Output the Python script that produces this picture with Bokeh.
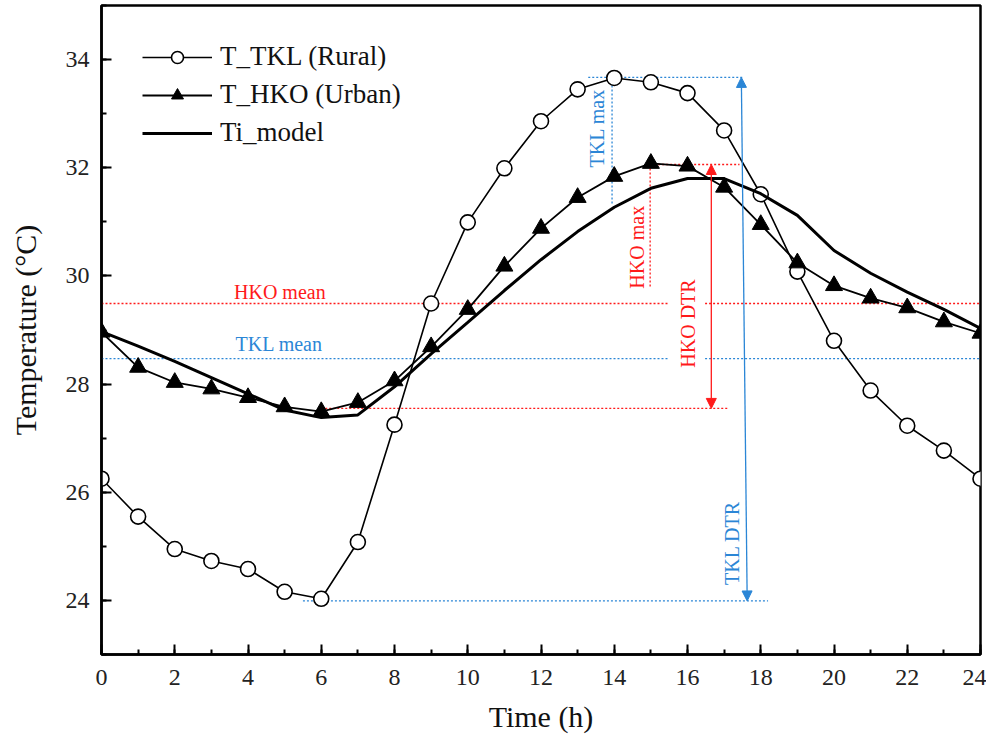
import math
from bokeh.plotting import figure
from bokeh.models import (Range1d, SingleIntervalTicker, Label, Arrow, NormalHead, Legend)
from bokeh.embed import file_html
from bokeh.resources import INLINE

# ---- data ----
hours = list(range(25))
t_tkl = [26.25, 25.55, 24.95, 24.73, 24.58, 24.16, 24.03, 25.08, 27.25, 29.49, 30.99,
         31.99, 32.86, 33.45, 33.66, 33.58, 33.38, 32.69, 31.51, 30.08, 28.80, 27.88,
         27.23, 26.77, 26.25]
t_hko = [28.96, 28.31, 28.03, 27.91, 27.75, 27.58, 27.49, 27.66, 28.06, 28.69, 29.38,
         30.18, 30.88, 31.45, 31.84, 32.08, 32.03, 31.64, 30.95, 30.24, 29.82, 29.59,
         29.41, 29.15, 28.94]
ti_model = [28.97, 28.70, 28.42, 28.12, 27.82, 27.52, 27.38, 27.43, 27.95, 28.56, 29.14,
            29.73, 30.30, 30.82, 31.27, 31.62, 31.80, 31.80, 31.52, 31.12, 30.47, 30.05,
            29.70, 29.38, 29.03]

hko_mean = 29.49
tkl_mean = 28.47
tkl_max = 33.67
tkl_min = 23.99
hko_max = 32.06
hko_min = 27.55

series_labels = ["T_TKL (Rural)", "T_HKO (Urban)", "Ti_model"]
x_label = "Time (h)"
y_label = "Temperature (°C)"

FONT = "Liberation Serif"
BLUE = "#2b86d6"
RED = "#ff1a1a"

p = figure(width=986, height=744, output_backend="svg", toolbar_location=None,
           x_range=Range1d(0, 24), y_range=Range1d(23, 35),
           min_border_left=101, min_border_right=6, min_border_top=5, min_border_bottom=90)
p.background_fill_color = "white"
p.border_fill_color = "white"
p.grid.visible = False
p.outline_line_color = "black"
p.outline_line_width = 2.5
p.outline_line_alpha = 1.0

for ax, tick in ((p.xaxis[0], SingleIntervalTicker(interval=2, num_minor_ticks=2)),
                 (p.yaxis[0], SingleIntervalTicker(interval=2, num_minor_ticks=2))):
    ax.ticker = tick
    ax.axis_line_color = "black"
    ax.axis_line_width = 2.5
    ax.major_tick_in = 10
    ax.major_tick_out = 0
    ax.minor_tick_in = 5
    ax.minor_tick_out = 0
    ax.major_tick_line_width = 2
    ax.minor_tick_line_width = 2
    ax.major_label_text_font = FONT
    ax.major_label_text_font_size = "24px"
    ax.major_label_text_color = "#222222"
    ax.axis_label_text_font = FONT
    ax.axis_label_text_font_size = "30px"
    ax.axis_label_text_font_style = "normal"
    ax.axis_label_text_color = "#111111"

p.xaxis.axis_label = x_label
p.yaxis.axis_label = y_label
p.xaxis.major_label_standoff = 15
p.xaxis.axis_label_standoff = 12
p.yaxis.major_label_standoff = 12
p.yaxis.axis_label_standoff = 21

# ---- reference (dotted) lines ----
dot = dict(line_dash="2 2", line_width=1.3)
# means, with a gap where the HKO DTR text sits
p.segment(x0=[0, 16.48], y0=[hko_mean, hko_mean], x1=[15.46, 24], y1=[hko_mean, hko_mean],
          line_color=RED, **dot)
p.segment(x0=[0, 16.48], y0=[tkl_mean, tkl_mean], x1=[15.46, 24], y1=[tkl_mean, tkl_mean],
          line_color=BLUE, **dot)
# TKL max / min
p.segment(x0=[13.29], y0=[tkl_max], x1=[17.52], y1=[tkl_max], line_color=BLUE, **dot)
p.segment(x0=[13.94], y0=[tkl_max], x1=[13.94], y1=[31.3], line_color=BLUE, **dot)
p.segment(x0=[5.5], y0=[tkl_min], x1=[18.2], y1=[tkl_min], line_color=BLUE, **dot)
# HKO max / min
p.segment(x0=[14.98], y0=[hko_max], x1=[17.42], y1=[hko_max], line_color=RED, **dot)
p.segment(x0=[14.98], y0=[hko_max], x1=[14.98], y1=[29.77], line_color=RED, **dot)
p.segment(x0=[6.0], y0=[hko_min], x1=[17.1], y1=[hko_min], line_color=RED, **dot)

# arrows
p.add_layout(Arrow(x_start=17.47, y_start=tkl_max, x_end=17.63, y_end=tkl_min,
                   line_color=BLUE, line_width=1.3,
                   start=NormalHead(size=10, fill_color=BLUE, line_color=BLUE),
                   end=NormalHead(size=10, fill_color=BLUE, line_color=BLUE)))
p.add_layout(Arrow(x_start=16.65, y_start=hko_max, x_end=16.65, y_end=hko_min,
                   line_color=RED, line_width=1.3,
                   start=NormalHead(size=10, fill_color=RED, line_color=RED),
                   end=NormalHead(size=10, fill_color=RED, line_color=RED)))

# annotation labels
ann = [("HKO mean", 4.87, 29.71, 0, RED),
       ("TKL mean", 4.85, 28.75, 0, BLUE),
       ("TKL max", 13.53, 32.73, math.pi / 2, BLUE),
       ("HKO max", 14.63, 30.53, math.pi / 2, RED),
       ("HKO DTR", 16.0, 29.12, math.pi / 2, RED),
       ("TKL DTR", 17.22, 25.06, math.pi / 2, BLUE)]
for txt, xx, yy, ang, col in ann:
    p.add_layout(Label(x=xx, y=yy, text=txt, angle=ang, text_align="center",
                       text_baseline="middle", text_font=FONT, text_font_size="20px",
                       text_color=col))

# ---- series ----
r1l = p.line(hours, t_tkl, line_color="black", line_width=1.6)
r1m = p.scatter(hours, t_tkl, marker="circle", size=15, fill_color="white",
                line_color="black", line_width=1.6)
r2l = p.line(hours, t_hko, line_color="black", line_width=1.8)
r2m = p.scatter(hours, t_hko, marker="triangle", size=17, fill_color="black",
                line_color="black")
r3 = p.line(hours, ti_model, line_color="black", line_width=3)

legend = Legend(items=[(series_labels[0], [r1l, r1m]),
                       (series_labels[1], [r2l, r2m]),
                       (series_labels[2], [r3])],
                location=(41, 649 - 39 - 104))
legend.border_line_alpha = 0
legend.background_fill_alpha = 0
legend.padding = 0
legend.spacing = 7
legend.label_height = 30
legend.glyph_height = 30
legend.glyph_width = 70
legend.label_standoff = 8
legend.label_text_font = FONT
legend.label_text_font_size = "27px"
legend.label_text_color = "#111111"
p.add_layout(legend)

open("out.html", "w").write(file_html(p, INLINE))
